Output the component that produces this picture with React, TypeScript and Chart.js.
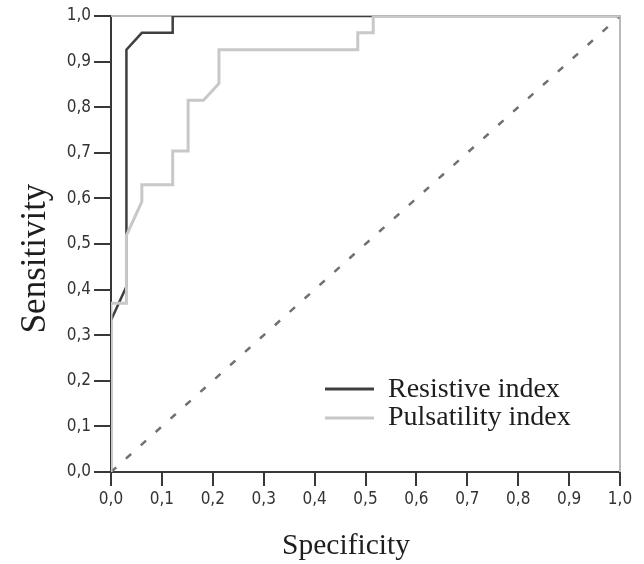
import React, { useEffect, useRef } from "react";
import { Chart, registerables } from "chart.js";

Chart.register(...registerables);

const seriesLabels = ["Resistive index", "Pulsatility index"];
const seriesColors = ["#3f3f3f", "#c8c8c8"];
const resistiveX = [0, 0, 0.0303, 0.0303, 0.0606, 0.1212, 0.1212, 1];
const resistiveY = [0, 0.333, 0.407, 0.926, 0.963, 0.963, 1, 1];
const pulsatilityX = [0, 0, 0.0303, 0.0303, 0.0606, 0.0606, 0.1212, 0.1212, 0.1515, 0.1515, 0.1818, 0.2121, 0.2121, 0.4848, 0.4848, 0.5152, 0.5152, 1];
const pulsatilityY = [0, 0.37, 0.37, 0.519, 0.593, 0.63, 0.63, 0.704, 0.704, 0.815, 0.815, 0.852, 0.926, 0.926, 0.963, 0.963, 1, 1];
const referenceX = [0, 1];
const referenceY = [0, 1];
const tickValues = [0, 0.1, 0.2, 0.3, 0.4, 0.5, 0.6, 0.7, 0.8, 0.9, 1];
const xTitle = "Specificity";
const yTitle = "Sensitivity";

const toPoints = (xs: number[], ys: number[]) => xs.map((x, i) => ({ x, y: ys[i] }));
const fmt = (v: number) => v.toFixed(1).replace(".", ",");

const framePlugin = {
  id: "frame",
  beforeDatasetsDraw(chart: any) {
    const { ctx, chartArea } = chart;
    ctx.save();
    ctx.strokeStyle = "#b9b9b9";
    ctx.lineWidth = 2;
    ctx.beginPath();
    ctx.moveTo(chartArea.left, chartArea.top);
    ctx.lineTo(chartArea.right, chartArea.top);
    ctx.lineTo(chartArea.right, chartArea.bottom);
    ctx.stroke();
    ctx.restore();
  },
};

const decorPlugin = {
  id: "decor",
  afterDraw(chart: any) {
    const { ctx, chartArea } = chart;
    ctx.save();
    // legend
    const lx0 = chartArea.left + 214;
    const lx1 = chartArea.left + 263;
    const tx = chartArea.left + 277;
    const rows = [
      { lineY: chartArea.top + 373, baseY: chartArea.top + 381 },
      { lineY: chartArea.top + 402, baseY: chartArea.top + 409 },
    ];
    chart.data.datasets.slice(0, 2).forEach((ds: any, i: number) => {
      const r = rows[i];
      ctx.strokeStyle = ds.borderColor;
      ctx.lineWidth = 3;
      ctx.beginPath();
      ctx.moveTo(lx0, r.lineY);
      ctx.lineTo(lx1, r.lineY);
      ctx.stroke();
      ctx.fillStyle = "#1e1e1e";
      ctx.font = '28px "Liberation Serif", "Times New Roman", serif';
      ctx.textAlign = "left";
      ctx.textBaseline = "alphabetic";
      ctx.fillText(ds.label, tx, r.baseY);
    });
    // axis titles
    ctx.fillStyle = "#1e1e1e";
    ctx.font = '29.5px "Liberation Serif", "Times New Roman", serif';
    ctx.textAlign = "center";
    ctx.textBaseline = "alphabetic";
    ctx.fillText(xTitle, (chartArea.left + chartArea.right) / 2 - 19.5, chartArea.bottom + 81.5);
    ctx.translate(45, (chartArea.top + chartArea.bottom) / 2 + 14.5);
    ctx.rotate(-Math.PI / 2);
    ctx.font = '35px "Liberation Serif", "Times New Roman", serif';
    ctx.fillText(yTitle, 0, 0);
    ctx.restore();
  },
};

export default function App() {
  const ref = useRef<HTMLCanvasElement | null>(null);
  useEffect(() => {
    if (!ref.current) return;
    const tickFont = { family: '"DejaVu Sans Condensed", "DejaVu Sans", sans-serif', size: 17 };
    const chart = new Chart(ref.current, {
      type: "line",
      data: {
        datasets: [
          {
            label: seriesLabels[0],
            data: toPoints(resistiveX, resistiveY),
            borderColor: seriesColors[0],
            backgroundColor: seriesColors[0],
            borderWidth: 2.5,
            pointRadius: 0,
            tension: 0,
            order: 1,
          },
          {
            label: seriesLabels[1],
            data: toPoints(pulsatilityX, pulsatilityY),
            borderColor: seriesColors[1],
            backgroundColor: seriesColors[1],
            borderWidth: 3,
            pointRadius: 0,
            tension: 0,
            order: 0,
          },
          {
            label: "",
            data: toPoints(referenceX, referenceY),
            borderColor: "#707070",
            borderWidth: 2.5,
            borderDash: [7, 13],
            pointRadius: 0,
            tension: 0,
            order: 2,
          },
        ],
      },
      options: {
        animation: false,
        responsive: true,
        maintainAspectRatio: false,
        layout: { padding: { top: 16, right: 24, left: 0, bottom: 0 } },
        plugins: { legend: { display: false }, tooltip: { enabled: false } },
        scales: {
          x: {
            type: "linear",
            min: 0,
            max: 1,
            afterBuildTicks: (s: any) => {
              s.ticks = tickValues.map((v) => ({ value: v }));
            },
            afterFit: (s: any) => {
              s.height = 92;
            },
            ticks: { callback: (v: any) => fmt(Number(v)), font: tickFont, color: "#333", padding: 3, maxRotation: 0, autoSkip: false },
            grid: { drawOnChartArea: false, drawTicks: true, tickLength: 14, color: "#383838", lineWidth: 2 },
            border: { display: true, color: "#383838", width: 2 },
          },
          y: {
            type: "linear",
            min: 0,
            max: 1,
            afterBuildTicks: (s: any) => {
              s.ticks = tickValues.map((v) => ({ value: v }));
            },
            afterFit: (s: any) => {
              s.width = 111;
            },
            ticks: { callback: (v: any) => fmt(Number(v)), font: tickFont, color: "#333", padding: 3, autoSkip: false },
            grid: { drawOnChartArea: false, drawTicks: true, tickLength: 17, color: "#383838", lineWidth: 2 },
            border: { display: true, color: "#383838", width: 2 },
          },
        },
      },
      plugins: [framePlugin, decorPlugin],
    });
    return () => chart.destroy();
  }, []);
  return (
    <div style={{ position: "fixed", left: 0, top: 0, width: 644, height: 564, background: "#fff" }}>
      <canvas ref={ref} />
    </div>
  );
}
